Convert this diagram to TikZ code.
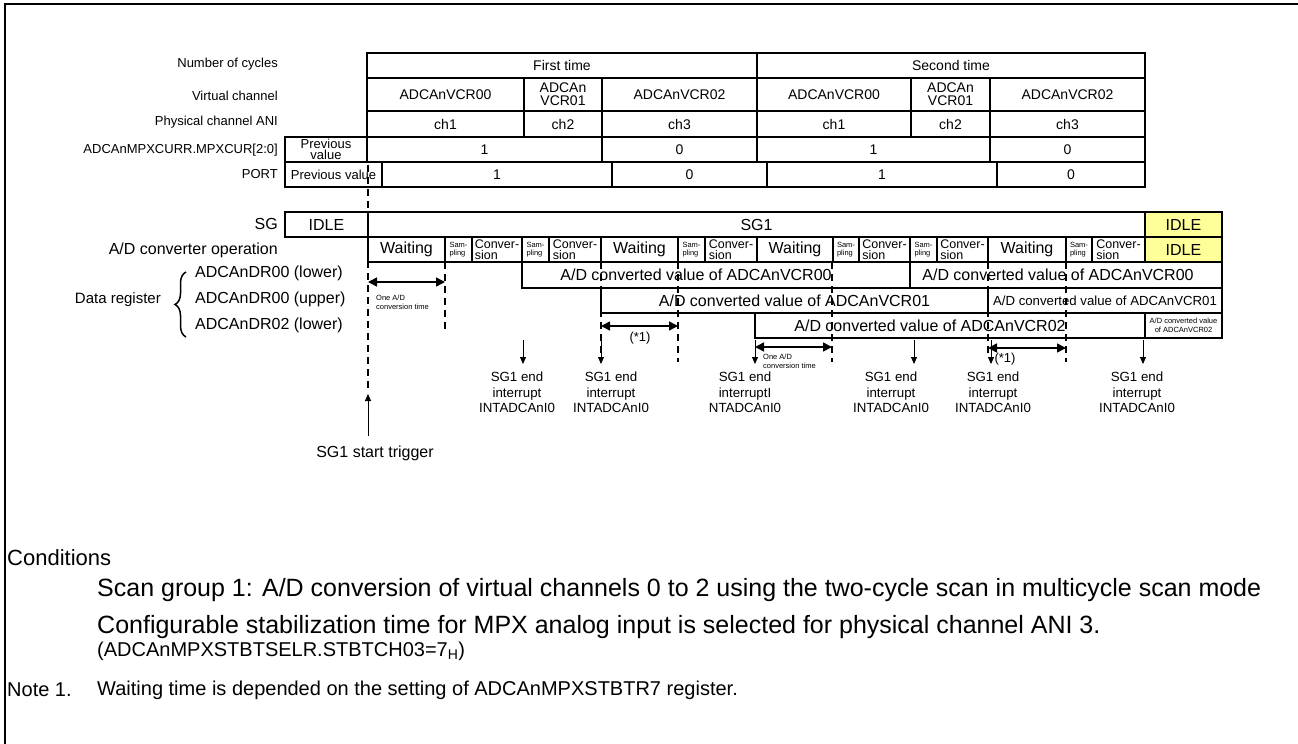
\documentclass[tikz,border=0pt]{standalone}
\usepackage{fontspec}
\setmainfont{Liberation Sans}
\usetikzlibrary{arrows.meta,decorations.pathreplacing}
\newcommand{\fsz}[2]{\fontsize{#1}{#2}\selectfont}
\definecolor{idleyel}{RGB}{255,255,153}

\begin{document}
\begin{tikzpicture}[x=1pt,y=-1pt,
  rng/.style n args={4}{minimum width={#3-#1},minimum height={#4-#2},
    at={({(#1+#3)/2},{(#2+#4)/2})}},
  cell/.style={draw,line width=1.5pt,inner sep=0pt,align=center,font=\fsz{14}{13}},
  big/.style={cell,font=\fsz{16}{16}},
  idle/.style={big,fill=idleyel},
  smp/.style={cell,align=left,font=\fsz{7.5}{7.5}},
  cnv/.style={cell,align=left,font=\fsz{12.5}{11}},
  rowlbl/.style={anchor=east,inner sep=0pt,font=\fsz{13}{13}},
  guide/.style={line width=1.6pt,dash pattern=on 7pt off 5pt},
  span/.style={{Triangle[length=9pt,width=9pt]}-{Triangle[length=9pt,width=9pt]},line width=1.6pt},
  irq/.style={-{Triangle[length=7pt,width=6pt]},line width=0.9pt},
  tiny/.style={anchor=west,inner sep=0pt,align=left,font=\fsz{7.5}{9}},
  irqlbl/.style={anchor=north,inner sep=0pt,align=center,font=\fsz{13.3}{15.5}},
  txt/.style={anchor=west,inner sep=0pt,font=\fsz{20}{20}},
  wide/.style={txt,font=\fsz{25}{25}}
]
  \useasboundingbox (0,0) rectangle (1298,744);
  \draw[line width=2.5pt] (5,744) -- (5,4) -- (1298,4);

  % row labels
  \node[rowlbl] (lcyc) at (278,64)  {Number of cycles};
  \node[rowlbl] (lvc)  at (278,96)  {Virtual channel};
  \node[rowlbl] (lpc)  at (278,122) {Physical channel ANI};
  \node[rowlbl] (lmpx) at (278,150) {ADCAnMPXCURR.MPXCUR[2:0]};
  \node[rowlbl] (lport) at (278,174) {PORT};
  \node[rowlbl,font=\fsz{16}{16}] (lsg) at (278,224) {SG};
  \node[rowlbl,font=\fsz{16}{16}] (lop) at (278,250) {A/D converter operation};
  \node[anchor=west,inner sep=0pt,font=\fsz{16}{16}] (ldr0) at (195,273) {ADCAnDR00 (lower)};
  \node[anchor=west,inner sep=0pt,font=\fsz{16}{16}] (ldr1) at (195,299) {ADCAnDR00 (upper)};
  \node[anchor=west,inner sep=0pt,font=\fsz{16}{16}] (ldr2) at (195,325) {ADCAnDR02 (lower)};
  \draw[line width=1.5pt,decorate,decoration={brace,amplitude=11pt}] (186,337) -- (186,272);
  \node[anchor=east,inner sep=0pt,font=\fsz{15}{15}] (ldr) at (161,300) {Data register};

  % cycles
  \node[cell,rng={367}{53}{757}{78}] (ft) {First time};
  \node[cell,rng={757}{53}{1145}{78}] (st) {Second time};

  % virtual and physical channels
  \foreach \n/\a/\b/\v/\c in {1/367/524/{ADCAnVCR00}/ch1, 2/524/602/{ADCAn\\VCR01}/ch2,
      3/602/757/{ADCAnVCR02}/ch3, 4/757/911/{ADCAnVCR00}/ch1,
      5/911/990/{ADCAn\\VCR01}/ch2, 6/990/1145/{ADCAnVCR02}/ch3} {
    \node[cell,rng={\a}{78}{\b}{111}] (vc\n) {\v};
    \node[cell,rng={\a}{111}{\b}{137}] (pc\n) {\c};
  }

  % MPXCUR and PORT
  \node[cell,font=\fsz{13}{11},rng={285}{137}{367}{162}] (mpx0) {Previous\\value};
  \foreach \n/\a/\b/\v in {1/367/602/1, 2/602/757/0, 3/757/990/1, 4/990/1145/0}
    \node[cell,rng={\a}{137}{\b}{162}] (mpx\n) {\v};
  \node[cell,font=\fsz{13}{13},rng={285}{162}{382}{187}] (port0) {Previous value};
  \foreach \n/\a/\b/\v in {1/382/612/1, 2/612/767/0, 3/767/997/1, 4/997/1145/0}
    \node[cell,rng={\a}{162}{\b}{187}] (port\n) {\v};

  % scan group
  \node[big,rng={285}{212}{368}{237}] (sg0) {IDLE};
  \node[big,rng={368}{212}{1145}{237}] (sg1) {SG1};
  \node[idle,rng={1145}{212}{1222}{237}] (sg2) {IDLE};

  % A/D converter operation
  \foreach \n/\a/\b in {1/368/445, 2/601/678, 3/757/833, 4/988/1066}
    \node[big,rng={\a}{237}{\b}{262}] (wt\n) {Waiting};
  \foreach \n/\a/\b in {1/445/472, 2/522/549, 3/678/705, 4/833/859, 5/910/937, 6/1066/1092}
    \node[smp,rng={\a}{237}{\b}{262}] (sp\n) {Sam-\\pling};
  \foreach \n/\a/\b in {1/472/522, 2/549/601, 3/705/757, 4/859/910, 5/937/988, 6/1092/1145}
    \node[cnv,rng={\a}{237}{\b}{262}] (cv\n) {Conver-\\sion};
  \node[idle,rng={1145}{237}{1222}{262}] (op7) {IDLE};

  % data registers
  \node[big,rng={522}{262}{910}{288}] (dl1) {\hspace*{-40pt}A/D converted value of ADCAnVCR00};
  \node[big,rng={910}{262}{1222}{288}] (dl2) {\hspace*{-16pt}A/D converted value of ADCAnVCR00};
  \node[big,rng={601}{288}{988}{313}] (du1) {A/D converted value of ADCAnVCR01};
  \node[cell,font=\fsz{13.2}{13},rng={988}{288}{1222}{313}] (du2) {A/D converted value of ADCAnVCR01};
  \node[big,rng={755}{313}{1145}{338}] (dh1) {\hspace*{-40pt}A/D converted value of ADCAnVCR02};
  \node[cell,font=\fsz{7.5}{8.5},rng={1145}{313}{1222}{338}] (dh2) {A/D converted value\\of ADCAnVCR02};

  % timing guides
  \foreach \n/\x/\a/\b in {0/368/165/389, 1/445/262/333, 2/601/262/360, 3/678/262/362,
      4/832/262/362, 5/988/262/356, 6/1066/262/362} {
    \coordinate (gt\n) at (\x,\a);
    \coordinate (gb\n) at (\x,\b);
    \draw[guide] (gt\n) -- (gb\n);
  }

  % conversion and waiting spans
  \path (368,282) coordinate (a1l) (445,282) coordinate (a1r)
        (601,326) coordinate (a2l) (678,326) coordinate (a2r)
        (755,347) coordinate (a3l) (832,347) coordinate (a3r)
        (988,348) coordinate (a4l) (1066,348) coordinate (a4r);
  \draw[span] (a1l) -- (a1r);
  \draw[span] (a2l) -- (a2r);
  \draw[span] (a3l) -- (a3r);
  \draw[span] (a4l) -- (a4r);
  \node[tiny] (n1) at (376,302) {One A/D\\conversion time};
  \node[tiny] (n3) at (763,361) {One A/D\\conversion time};
  \node[inner sep=0pt,font=\fsz{13}{13}] (w1) at (640,338) {(*1)};
  \node[inner sep=0pt,font=\fsz{13}{13}] (w2) at (1005,359) {(*1)};

  % end interrupts
  \foreach \n/\x/\lx/\t in {1/523/517/{SG1 end\\interrupt\\INTADCAnI0},
      2/601/611/{SG1 end\\interrupt\\INTADCAnI0},
      3/755/745/{SG1 end\\interruptI\\NTADCAnI0},
      4/914/891/{SG1 end\\interrupt\\INTADCAnI0},
      5/991/993/{SG1 end\\interrupt\\INTADCAnI0},
      6/1143/1137/{SG1 end\\interrupt\\INTADCAnI0}} {
    \coordinate (is\n) at (\x,340);
    \coordinate (ie\n) at (\x,364);
    \draw[irq] (is\n) -- (ie\n);
    \node[irqlbl] (il\n) at (\lx,372) {\t};
  }

  % start trigger
  \node[inner sep=0pt,font=\fsz{16}{16}] (trg) at (375,453) {SG1 start trigger};
  \coordinate (trgs) at (368,436);
  \coordinate (trge) at (368,394);
  \draw[irq] (trgs) -- (trge);

  % conditions
  \node[txt,font=\fsz{22}{22}] (cond) at (7,558) {Conditions};
  \node[wide] (cnd1) at (97,590) {Scan group 1: A/D conversion of virtual channels 0 to 2 using the two-cycle scan in multicycle scan mode};
  \node[wide] (cnd2) at (97,627) {Configurable stabilization time for MPX analog input is selected for physical channel ANI 3.};
  \node[txt] (cnd3) at (97,651) {(ADCAnMPXSTBTSELR.STBTCH03=7\textsubscript{H})};
  \node[txt] (note) at (7,690) {Note 1.};
  \node[txt] (notx) at (97,690) {Waiting time is depended on the setting of ADCAnMPXSTBTR7 register.};
\end{tikzpicture}
\end{document}
